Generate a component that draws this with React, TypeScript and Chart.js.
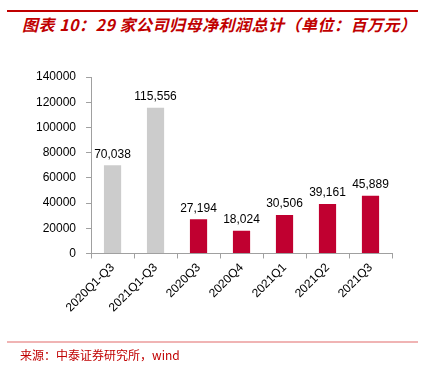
import React, { useEffect, useRef } from "react";
import { Chart, registerables } from "chart.js";

Chart.register(...registerables);

const categories = ["2020Q1-Q3", "2021Q1-Q3", "2020Q3", "2020Q4", "2021Q1", "2021Q2", "2021Q3"];
const values = [70038, 115556, 27194, 18024, 30506, 39161, 45889];
const barColors = ["#cccccc", "#cccccc", "#c00030", "#c00030", "#c00030", "#c00030", "#c00030"];
const yTicks = [0, 20000, 40000, 60000, 80000, 100000, 120000, 140000];

const FONT = "'Liberation Sans', Arial, sans-serif";

const labelPlugin = {
  id: "barLabels",
  afterDatasetsDraw(chart: any) {
    const ctx = chart.ctx;
    const meta = chart.getDatasetMeta(0);
    ctx.save();
    ctx.font = `12px ${FONT}`;
    ctx.fillStyle = "#000";
    ctx.textAlign = "center";
    ctx.textBaseline = "bottom";
    meta.data.forEach((bar: any, i: number) => {
      ctx.fillText(values[i].toLocaleString("en-US"), bar.x, bar.y - 5);
    });
    ctx.restore();
  },
};

export default function App() {
  const ref = useRef<HTMLCanvasElement>(null);
  useEffect(() => {
    if (!ref.current) return;
    const chart = new Chart(ref.current, {
      type: "bar",
      data: {
        labels: categories,
        datasets: [
          {
            data: values,
            backgroundColor: barColors,
            barPercentage: 0.4,
            categoryPercentage: 1,
          },
        ],
      },
      options: {
        animation: false,
        responsive: false,
        devicePixelRatio: 1,
        layout: { padding: { left: 26, right: 30, top: 77, bottom: 49 } },
        plugins: { legend: { display: false }, tooltip: { enabled: false } },
        scales: {
          x: {
            grid: { drawOnChartArea: false, drawTicks: true, tickLength: 5, color: "#a0a0a0", offset: true },
            border: { display: true, color: "#a0a0a0" },
            ticks: {
              color: "#000",
              font: { family: FONT, size: 12 },
              maxRotation: 45,
              minRotation: 45,
              padding: 2,
            },
          },
          y: {
            min: 0,
            max: 140000,
            afterBuildTicks: (scale: any) => {
              scale.ticks = yTicks.map((v) => ({ value: v }));
            },
            grid: { drawOnChartArea: false, drawTicks: true, tickLength: 5, color: "#a0a0a0" },
            border: { display: true, color: "#a0a0a0" },
            ticks: {
              color: "#000",
              font: { family: FONT, size: 12 },
              padding: 10,
              callback: (v: any) => String(v),
            },
          },
        },
      },
      plugins: [labelPlugin],
    });
    return () => chart.destroy();
  }, []);

  return (
    <div style={{ position: "fixed", left: 0, top: 0, width: 422, height: 366, background: "#fff", overflow: "hidden" }}>
      <div style={{ position: "absolute", left: 7, top: 10, width: 411, height: 2, background: "#c00000" }} />
      <div
        style={{
          position: "absolute",
          left: 22,
          top: 13,
          fontFamily: "'Noto Sans CJK SC', sans-serif",
          fontStyle: "italic",
          fontWeight: "bold",
          fontSize: 16,
          letterSpacing: 0.5,
          lineHeight: "22px",
          color: "#c00000",
          whiteSpace: "nowrap",
        }}
      >
        图表 10：29 家公司归母净利润总计（单位：百万元）
      </div>
      <canvas ref={ref} width={422} height={366} style={{ position: "absolute", left: 0, top: 0 }} />
      <div style={{ position: "absolute", left: 7, top: 341, width: 411, height: 2, background: "#f0b4b4" }} />
      <div
        style={{
          position: "absolute",
          left: 20,
          top: 347,
          fontFamily: "'Noto Sans CJK SC', sans-serif",
          fontSize: 12,
          lineHeight: "16px",
          color: "#c00000",
          whiteSpace: "nowrap",
        }}
      >
        来源：中泰证券研究所，wind
      </div>
    </div>
  );
}
